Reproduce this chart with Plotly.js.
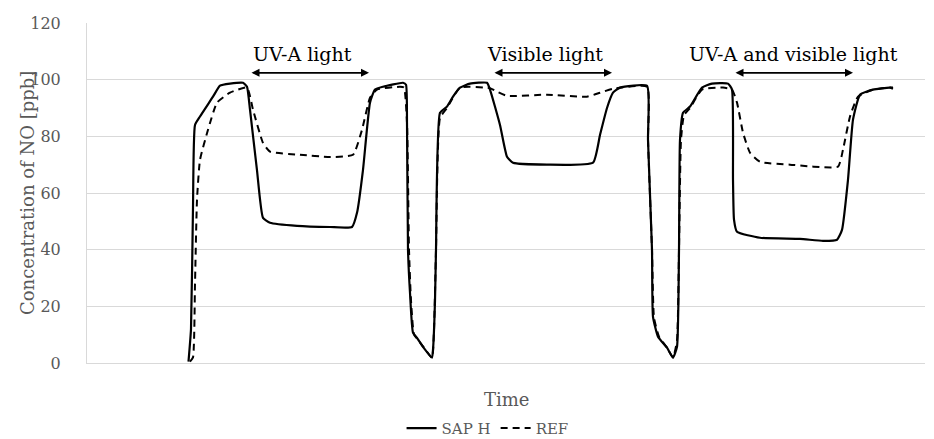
<!DOCTYPE html>
<html>
<head>
<meta charset="utf-8">
<script src="https://cdn.plot.ly/plotly-3.0.1.min.js"></script>
<style>
html,body{margin:0;padding:0;background:#fff;}
#chart{width:934px;height:439px;}
</style>
</head>
<body>
<div id="chart"></div>
<script>
// Time (arbitrary units) and NO concentration [ppb]
var sapTime = [40.6,41.6,42.4,43.2,45.2,50.4,53.2,57.2,62.4,64.0,65.2,68.0,70.4,73.2,84.0,97.2,106.0,108.0,110.4,113.2,115.2,118.4,126.4,127.6,128.0,128.4,129.2,130.4,132.0,134.4,138.0,138.4,139.2,139.6,141.2,144.0,146.4,149.2,153.2,160.0,161.2,165.2,168.0,170.4,184.0,202.4,205.2,208.0,210.4,213.2,224.0,224.4,226.0,226.4,228.4,232.0,234.4,236.0,236.8,237.2,238.4,241.2,246.0,250.0,256.4,258.0,258.4,258.8,260.0,269.2,285.2,294.4,300.0,302.0,304.4,306.4,309.2,314.4,321.2,322.4];
var sapNO   = [0.5,12,55,84,87,94,97.9,98.6,98.9,97.5,89.4,68,51.2,49.5,48.4,48,48,53,68.2,91.9,96.5,97.5,98.9,98.2,84.8,40,24.8,10.7,8.9,5.7,1.9,4.7,22,40,88.3,90.5,94,97.2,98.6,98.9,96.5,84,72.8,70.7,70,70.7,80.5,90,95.4,97.2,97.8,78.8,40,16.3,9.3,5.4,1.9,5.7,40,78.8,88.3,90.5,97.2,98.6,98.6,96.5,64.7,50.6,46.3,44.2,43.8,43.1,43.5,47,64.7,85.9,94.7,96.5,97.2,96.8];

var refTime = [41.2,42.4,43.2,44.0,45.2,48.4,52.0,57.2,64.0,66.4,70.4,73.2,85.2,97.2,106.4,110.0,113.2,116.0,125.2,126.8,128.0,128.8,129.6,130.8,132.4,134.8,138.0,138.8,139.6,141.2,144.0,149.2,161.2,164.0,168.0,184.0,200.0,205.2,210.4,224.0,224.4,226.0,226.8,228.8,232.0,234.4,236.0,236.8,237.6,238.8,241.2,246.0,254.4,258.0,260.0,262.4,265.2,269.2,281.2,300.4,302.4,305.2,308.4,314.4,321.2,322.4];
var refNO   = [0.5,2,28,57.6,71.7,82.3,91.9,95.4,97.2,89.4,77.7,74.6,73.5,72.7,73.5,82.3,93.6,96.5,97.5,97.2,84.8,40,22,10,8.2,5.4,1.9,11.7,40,86.5,90,97.2,97,95.8,94.3,94.7,94,95.4,96.8,97.5,78.8,40,16,9.3,5.4,1.9,8,40,78.8,87.5,90,96.5,97.2,96.5,91.9,81.3,74.2,71,70,69.3,75.3,87,94,96.5,97.2,97.2];

var seriesNames = ['SAP H', 'REF'];
var periodLabels = ['UV-A light', 'Visible light', 'UV-A and visible light'];
var periodStart = [65.2, 162.4, 258.8];
var periodEnd   = [112.8, 210.0, 306.4];
var yTicks = [0, 20, 40, 60, 80, 100, 120];
var yTitle = 'Concentration of NO [ppb]';
var xTitle = 'Time';

var traces = [
  {x: sapTime, y: sapNO, name: seriesNames[0], type: 'scatter', mode: 'lines',
   line: {color: '#000000', width: 2.2, shape: 'spline', smoothing: 0.45}},
  {x: refTime, y: refNO, name: seriesNames[1], type: 'scatter', mode: 'lines',
   line: {color: '#000000', width: 2, dash: '7px,5px', shape: 'spline', smoothing: 0.45}}
];

var annotations = [];
for (var i = 0; i < periodLabels.length; i++) {
  annotations.push({
    x: periodEnd[i], y: 102.4, xref: 'x', yref: 'y',
    ax: periodStart[i], ay: 102.4, axref: 'x', ayref: 'y',
    showarrow: true, arrowside: 'end+start', arrowhead: 2, arrowsize: 1,
    arrowwidth: 1.6, arrowcolor: '#000000', text: ''
  });
  annotations.push({
    x: (periodStart[i] + periodEnd[i]) / 2 - (i < 2 ? 3 : 0), y: 109, xref: 'x', yref: 'y',
    text: periodLabels[i], showarrow: false, xanchor: 'center', yanchor: 'middle',
    font: {family: 'DejaVu Serif', size: 19, color: '#000000'}
  });
}
// axis titles placed as annotations for exact positioning
annotations.push({
  x: -0.0716, y: 0.5, xref: 'paper', yref: 'paper', text: yTitle, textangle: -90,
  showarrow: false, xanchor: 'center', yanchor: 'middle',
  font: {family: 'DejaVu Serif', size: 18, color: '#595959'}
});
annotations.push({
  x: 0.5, y: -0.108, xref: 'paper', yref: 'paper', text: xTitle,
  showarrow: false, xanchor: 'center', yanchor: 'middle',
  font: {family: 'DejaVu Serif', size: 18, color: '#595959'}
});

var layout = {
  width: 934, height: 439,
  margin: {l: 87, r: 9, t: 23, b: 76, autoexpand: false},
  paper_bgcolor: '#ffffff', plot_bgcolor: '#ffffff',
  font: {family: 'DejaVu Serif', color: '#595959'},
  showlegend: true,
  legend: {orientation: 'h', x: 0.478, xanchor: 'center', y: -0.192, yanchor: 'middle',
           font: {family: 'DejaVu Serif', size: 15, color: '#595959'}, bgcolor: 'rgba(0,0,0,0)'},
  xaxis: {range: [0, 335.2], showticklabels: false, showgrid: false, zeroline: false,
          showline: true, linecolor: '#d9d9d9', linewidth: 1, ticks: '', automargin: false},
  yaxis: {range: [0, 120], tickvals: yTicks, ticktext: yTicks.map(String),
          showgrid: true, gridcolor: '#d9d9d9', gridwidth: 1, zeroline: false,
          showline: true, linecolor: '#d9d9d9', linewidth: 1, ticks: '', automargin: false,
          ticklabelstandoff: 22,
          tickfont: {family: 'DejaVu Serif', size: 16, color: '#595959'}},
  annotations: annotations
};

Plotly.newPlot('chart', traces, layout, {displayModeBar: false, staticPlot: true});
</script>
</body>
</html>
